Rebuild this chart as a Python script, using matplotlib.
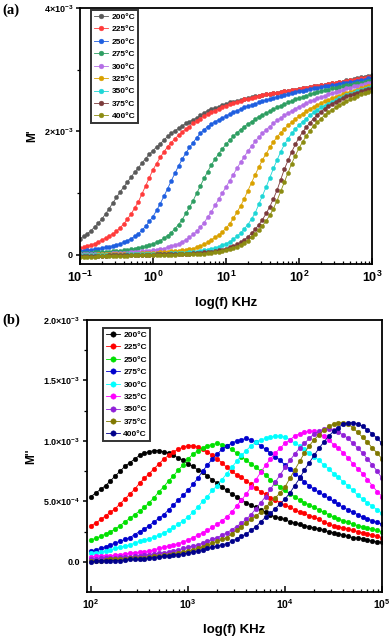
"""Electric modulus spectra: M' (a) and M'' (b) vs frequency."""

import matplotlib

matplotlib.use("Agg")
import matplotlib.pyplot as plt
from matplotlib.ticker import FixedLocator, FixedFormatter, LogLocator, NullFormatter

plt.rcParams["font.family"] = ["Liberation Sans", "DejaVu Sans"]
plt.rcParams["font.weight"] = "bold"
plt.rcParams["mathtext.fontset"] = "custom"
plt.rcParams["mathtext.rm"] = "Liberation Sans:bold"
plt.rcParams["mathtext.bf"] = "Liberation Sans:bold"
plt.rcParams["mathtext.it"] = "Liberation Sans:bold"

temps = ["200°C", "225°C", "250°C", "275°C", "300°C", "325°C", "350°C", "375°C", "400°C"]

# measured frequency grid (kHz), 20 points per decade
mantissas = [1.0, 1.122, 1.259, 1.413, 1.585, 1.778, 1.995, 2.239, 2.512, 2.818,
             3.162, 3.548, 3.981, 4.467, 5.012, 5.623, 6.310, 7.079, 7.943, 8.913]
freq_a = [m * 10.0 ** d for d in [-1, 0, 1, 2] for m in mantissas] + [1000.0]
freq_b = [m * 10.0 ** d for d in [2, 3, 4] for m in mantissas] + [1.0e5]

# M' in units of 1e-3 (one row per half decade)
m1_200 = [0.26, 0.30, 0.34, 0.39, 0.45, 0.51, 0.58, 0.66, 0.75, 0.84,
          0.93, 1.02, 1.10, 1.18, 1.26, 1.34, 1.41, 1.49, 1.56, 1.63,
          1.69, 1.75, 1.80, 1.86, 1.92, 1.97, 2.01, 2.05, 2.09, 2.13,
          2.16, 2.19, 2.22, 2.26, 2.30, 2.34, 2.37, 2.38, 2.40, 2.43,
          2.45, 2.47, 2.48, 2.50, 2.51, 2.53, 2.54, 2.56, 2.57, 2.58,
          2.59, 2.60, 2.61, 2.62, 2.63, 2.64, 2.65, 2.66, 2.67, 2.68,
          2.69, 2.70, 2.71, 2.72, 2.73, 2.74, 2.75, 2.76, 2.77, 2.78,
          2.79, 2.80, 2.81, 2.83, 2.84, 2.85, 2.86, 2.88, 2.89, 2.90,
          2.91]
m1_225 = [0.11, 0.12, 0.14, 0.16, 0.18, 0.21, 0.24, 0.27, 0.30, 0.34,
          0.38, 0.44, 0.50, 0.58, 0.66, 0.76, 0.86, 0.99, 1.12, 1.25,
          1.38, 1.48, 1.58, 1.67, 1.75, 1.82, 1.88, 1.94, 1.99, 2.04,
          2.08, 2.13, 2.17, 2.21, 2.25, 2.28, 2.31, 2.34, 2.37, 2.40,
          2.42, 2.44, 2.46, 2.48, 2.50, 2.52, 2.53, 2.55, 2.56, 2.58,
          2.59, 2.60, 2.61, 2.62, 2.63, 2.64, 2.65, 2.66, 2.67, 2.68,
          2.69, 2.70, 2.71, 2.72, 2.73, 2.74, 2.75, 2.76, 2.77, 2.78,
          2.79, 2.80, 2.81, 2.82, 2.83, 2.84, 2.85, 2.86, 2.87, 2.88,
          2.89]
m1_250 = [0.06, 0.065, 0.07, 0.08, 0.09, 0.10, 0.11, 0.12, 0.13, 0.145,
          0.16, 0.18, 0.20, 0.23, 0.26, 0.30, 0.34, 0.40, 0.46, 0.54,
          0.62, 0.72, 0.83, 0.95, 1.07, 1.20, 1.32, 1.44, 1.55, 1.65,
          1.74, 1.82, 1.90, 1.97, 2.03, 2.08, 2.12, 2.16, 2.19, 2.22,
          2.25, 2.28, 2.31, 2.34, 2.36, 2.39, 2.41, 2.43, 2.45, 2.47,
          2.49, 2.51, 2.53, 2.55, 2.56, 2.58, 2.59, 2.61, 2.62, 2.64,
          2.65, 2.66, 2.67, 2.69, 2.70, 2.71, 2.72, 2.73, 2.74, 2.75,
          2.76, 2.77, 2.78, 2.79, 2.80, 2.81, 2.82, 2.83, 2.84, 2.86,
          2.87]
m1_275 = [0.03, 0.03, 0.03, 0.035, 0.04, 0.04, 0.04, 0.045, 0.05, 0.055,
          0.06, 0.065, 0.07, 0.08, 0.09, 0.10, 0.11, 0.125, 0.14, 0.16,
          0.18, 0.20, 0.23, 0.27, 0.31, 0.36, 0.42, 0.49, 0.57, 0.67,
          0.77, 0.88, 1.00, 1.12, 1.24, 1.35, 1.46, 1.55, 1.64, 1.72,
          1.79, 1.86, 1.92, 1.98, 2.03, 2.08, 2.12, 2.16, 2.20, 2.24,
          2.27, 2.30, 2.33, 2.36, 2.39, 2.42, 2.44, 2.47, 2.49, 2.52,
          2.54, 2.56, 2.58, 2.60, 2.62, 2.64, 2.65, 2.67, 2.68, 2.70,
          2.71, 2.72, 2.73, 2.75, 2.76, 2.77, 2.78, 2.79, 2.80, 2.82,
          2.83]
m1_300 = [0.01, 0.01, 0.01, 0.015, 0.02, 0.02, 0.02, 0.02, 0.02, 0.025,
          0.03, 0.03, 0.03, 0.035, 0.04, 0.045, 0.05, 0.055, 0.06, 0.065,
          0.07, 0.08, 0.09, 0.10, 0.12, 0.14, 0.16, 0.18, 0.21, 0.24,
          0.28, 0.33, 0.38, 0.45, 0.52, 0.61, 0.70, 0.80, 0.90, 1.00,
          1.10, 1.20, 1.30, 1.40, 1.50, 1.59, 1.68, 1.76, 1.84, 1.91,
          1.97, 2.03, 2.08, 2.13, 2.18, 2.22, 2.26, 2.30, 2.33, 2.37,
          2.40, 2.43, 2.46, 2.49, 2.51, 2.54, 2.56, 2.58, 2.60, 2.62,
          2.64, 2.66, 2.68, 2.70, 2.71, 2.73, 2.74, 2.76, 2.77, 2.79,
          2.80]
m1_325 = [0.00, 0.00, 0.00, 0.00, 0.00, 0.005, 0.01, 0.01, 0.01, 0.01,
          0.01, 0.01, 0.01, 0.015, 0.02, 0.02, 0.02, 0.025, 0.03, 0.03,
          0.03, 0.035, 0.04, 0.045, 0.05, 0.055, 0.06, 0.065, 0.07, 0.08,
          0.09, 0.10, 0.12, 0.14, 0.17, 0.20, 0.24, 0.28, 0.32, 0.37,
          0.43, 0.50, 0.59, 0.69, 0.79, 0.91, 1.04, 1.17, 1.30, 1.42,
          1.54, 1.64, 1.74, 1.83, 1.91, 1.98, 2.04, 2.10, 2.15, 2.20,
          2.25, 2.29, 2.33, 2.37, 2.40, 2.43, 2.46, 2.49, 2.51, 2.54,
          2.56, 2.58, 2.60, 2.62, 2.64, 2.66, 2.68, 2.70, 2.72, 2.74,
          2.76]
m1_350 = [-0.01, -0.01, -0.01, -0.01, -0.01, -0.005, 0.00, 0.00, 0.00, 0.00,
          0.00, 0.00, 0.00, 0.005, 0.01, 0.01, 0.01, 0.01, 0.01, 0.01,
          0.01, 0.015, 0.02, 0.02, 0.02, 0.025, 0.03, 0.03, 0.03, 0.035,
          0.04, 0.045, 0.05, 0.06, 0.07, 0.08, 0.09, 0.11, 0.13, 0.155,
          0.18, 0.21, 0.25, 0.30, 0.35, 0.42, 0.49, 0.58, 0.68, 0.82,
          0.96, 1.10, 1.25, 1.40, 1.54, 1.67, 1.79, 1.88, 1.97, 2.04,
          2.10, 2.16, 2.21, 2.26, 2.31, 2.35, 2.39, 2.42, 2.45, 2.48,
          2.51, 2.54, 2.56, 2.59, 2.61, 2.63, 2.65, 2.67, 2.69, 2.71,
          2.73]
m1_375 = [-0.02, -0.02, -0.02, -0.02, -0.02, -0.02, -0.02, -0.015, -0.01, -0.01,
          -0.01, -0.01, -0.01, -0.01, -0.01, -0.005, 0.00, 0.00, 0.00, 0.00,
          0.00, 0.005, 0.01, 0.01, 0.01, 0.01, 0.01, 0.015, 0.02, 0.02,
          0.02, 0.025, 0.03, 0.035, 0.04, 0.045, 0.05, 0.06, 0.07, 0.085,
          0.10, 0.12, 0.14, 0.17, 0.20, 0.24, 0.29, 0.35, 0.41, 0.49,
          0.57, 0.67, 0.78, 0.91, 1.05, 1.22, 1.39, 1.53, 1.67, 1.79,
          1.90, 1.99, 2.07, 2.14, 2.21, 2.27, 2.32, 2.37, 2.41, 2.45,
          2.48, 2.51, 2.54, 2.57, 2.59, 2.61, 2.63, 2.65, 2.67, 2.69,
          2.70]
m1_400 = [-0.03, -0.03, -0.03, -0.03, -0.03, -0.025, -0.02, -0.02, -0.02, -0.02,
          -0.02, -0.02, -0.02, -0.015, -0.01, -0.01, -0.01, -0.01, -0.01, -0.01,
          -0.01, -0.005, 0.00, 0.00, 0.00, 0.00, 0.00, 0.005, 0.01, 0.01,
          0.01, 0.015, 0.02, 0.02, 0.02, 0.025, 0.03, 0.04, 0.05, 0.06,
          0.07, 0.09, 0.11, 0.13, 0.16, 0.19, 0.23, 0.28, 0.33, 0.40,
          0.47, 0.55, 0.64, 0.75, 0.88, 1.03, 1.18, 1.33, 1.48, 1.61,
          1.73, 1.83, 1.93, 2.01, 2.09, 2.15, 2.21, 2.26, 2.31, 2.35,
          2.39, 2.43, 2.46, 2.49, 2.52, 2.55, 2.57, 2.60, 2.62, 2.64,
          2.66]

# M'' in units of 1e-3 (one row per half decade)
m2_200 = [0.54, 0.57, 0.60, 0.63, 0.67, 0.71, 0.75, 0.79, 0.82, 0.85,
          0.88, 0.90, 0.91, 0.92, 0.92, 0.91, 0.90, 0.88, 0.86, 0.84,
          0.81, 0.79, 0.76, 0.74, 0.71, 0.68, 0.65, 0.62, 0.59, 0.56,
          0.54, 0.51, 0.49, 0.47, 0.45, 0.43, 0.41, 0.39, 0.37, 0.36,
          0.35, 0.33, 0.32, 0.31, 0.30, 0.29, 0.28, 0.27, 0.26, 0.25,
          0.24, 0.23, 0.22, 0.21, 0.20, 0.195, 0.19, 0.18, 0.17, 0.165,
          0.16]
m2_225 = [0.30, 0.32, 0.35, 0.38, 0.41, 0.44, 0.48, 0.52, 0.56, 0.60,
          0.65, 0.69, 0.73, 0.77, 0.81, 0.85, 0.88, 0.91, 0.93, 0.95,
          0.96, 0.96, 0.95, 0.93, 0.91, 0.88, 0.85, 0.82, 0.78, 0.75,
          0.72, 0.70, 0.67, 0.64, 0.61, 0.58, 0.56, 0.53, 0.51, 0.49,
          0.47, 0.45, 0.43, 0.41, 0.40, 0.38, 0.37, 0.35, 0.33, 0.31,
          0.30, 0.29, 0.28, 0.27, 0.26, 0.25, 0.24, 0.23, 0.22, 0.21,
          0.20]
m2_250 = [0.18, 0.195, 0.21, 0.23, 0.25, 0.27, 0.30, 0.33, 0.36, 0.39,
          0.42, 0.45, 0.49, 0.53, 0.58, 0.62, 0.67, 0.71, 0.76, 0.80,
          0.85, 0.89, 0.92, 0.94, 0.96, 0.97, 0.98, 0.97, 0.96, 0.93,
          0.90, 0.87, 0.84, 0.81, 0.78, 0.75, 0.72, 0.68, 0.65, 0.62,
          0.59, 0.56, 0.54, 0.51, 0.49, 0.47, 0.45, 0.43, 0.41, 0.39,
          0.37, 0.355, 0.34, 0.325, 0.31, 0.30, 0.29, 0.28, 0.27, 0.26,
          0.25]
m2_275 = [0.09, 0.10, 0.11, 0.125, 0.14, 0.155, 0.17, 0.185, 0.20, 0.225,
          0.25, 0.27, 0.30, 0.33, 0.36, 0.39, 0.43, 0.47, 0.51, 0.55,
          0.59, 0.64, 0.69, 0.75, 0.80, 0.85, 0.89, 0.93, 0.96, 0.98,
          1.00, 1.01, 1.02, 1.01, 0.99, 0.96, 0.93, 0.90, 0.87, 0.84,
          0.80, 0.77, 0.73, 0.70, 0.66, 0.63, 0.60, 0.575, 0.55, 0.525,
          0.50, 0.475, 0.45, 0.43, 0.41, 0.39, 0.37, 0.355, 0.34, 0.325,
          0.31]
m2_300 = [0.07, 0.075, 0.08, 0.09, 0.10, 0.11, 0.12, 0.13, 0.14, 0.155,
          0.17, 0.18, 0.19, 0.205, 0.22, 0.24, 0.26, 0.285, 0.31, 0.34,
          0.37, 0.41, 0.45, 0.50, 0.54, 0.59, 0.63, 0.68, 0.73, 0.78,
          0.83, 0.88, 0.92, 0.96, 0.99, 1.01, 1.02, 1.03, 1.04, 1.04,
          1.03, 1.01, 0.98, 0.96, 0.93, 0.90, 0.87, 0.84, 0.80, 0.77,
          0.73, 0.70, 0.66, 0.63, 0.59, 0.55, 0.52, 0.49, 0.46, 0.43,
          0.40]
m2_325 = [0.04, 0.045, 0.05, 0.05, 0.05, 0.055, 0.06, 0.065, 0.07, 0.075,
          0.08, 0.085, 0.09, 0.10, 0.11, 0.12, 0.13, 0.14, 0.15, 0.165,
          0.18, 0.20, 0.22, 0.24, 0.26, 0.285, 0.31, 0.34, 0.37, 0.41,
          0.46, 0.51, 0.56, 0.62, 0.68, 0.74, 0.80, 0.85, 0.90, 0.94,
          0.98, 1.01, 1.04, 1.06, 1.07, 1.08, 1.08, 1.06, 1.04, 1.01,
          0.97, 0.94, 0.90, 0.86, 0.81, 0.77, 0.73, 0.68, 0.63, 0.58,
          0.54]
m2_350 = [0.02, 0.025, 0.03, 0.03, 0.03, 0.035, 0.04, 0.04, 0.04, 0.045,
          0.05, 0.055, 0.06, 0.065, 0.07, 0.075, 0.08, 0.09, 0.10, 0.11,
          0.12, 0.13, 0.14, 0.155, 0.17, 0.185, 0.20, 0.22, 0.24, 0.265,
          0.29, 0.32, 0.35, 0.39, 0.44, 0.49, 0.54, 0.60, 0.66, 0.72,
          0.78, 0.84, 0.89, 0.94, 0.98, 1.02, 1.06, 1.08, 1.10, 1.10,
          1.09, 1.07, 1.05, 1.02, 0.98, 0.94, 0.90, 0.85, 0.80, 0.75,
          0.69]
m2_375 = [0.01, 0.01, 0.01, 0.015, 0.02, 0.02, 0.02, 0.025, 0.03, 0.03,
          0.03, 0.035, 0.04, 0.045, 0.05, 0.055, 0.06, 0.065, 0.07, 0.08,
          0.09, 0.10, 0.11, 0.125, 0.14, 0.155, 0.17, 0.185, 0.20, 0.23,
          0.26, 0.29, 0.32, 0.35, 0.38, 0.41, 0.45, 0.49, 0.53, 0.57,
          0.62, 0.69, 0.76, 0.83, 0.90, 0.96, 1.01, 1.05, 1.09, 1.12,
          1.14, 1.15, 1.15, 1.14, 1.11, 1.07, 1.03, 0.99, 0.94, 0.90,
          0.85]
m2_400 = [0.00, 0.005, 0.01, 0.01, 0.01, 0.01, 0.01, 0.015, 0.02, 0.02,
          0.02, 0.025, 0.03, 0.035, 0.04, 0.045, 0.05, 0.055, 0.06, 0.065,
          0.07, 0.08, 0.09, 0.10, 0.11, 0.12, 0.13, 0.14, 0.15, 0.17,
          0.19, 0.21, 0.23, 0.26, 0.29, 0.33, 0.37, 0.40, 0.44, 0.48,
          0.52, 0.57, 0.63, 0.69, 0.76, 0.82, 0.88, 0.94, 0.99, 1.04,
          1.08, 1.11, 1.14, 1.15, 1.15, 1.14, 1.12, 1.09, 1.06, 1.02,
          0.98]

series_a = [m1_200, m1_225, m1_250, m1_275, m1_300, m1_325, m1_350, m1_375, m1_400]
series_b = [m2_200, m2_225, m2_250, m2_275, m2_300, m2_325, m2_350, m2_375, m2_400]

colors_a = ["#5a5a5a", "#ff3b3b", "#1f5fe0", "#2e9e62", "#b46ee6", "#d9a100", "#1ed6d6", "#7b3b3b", "#8c8c12"]
colors_b = ["#000000", "#ff0000", "#00e000", "#0000cd", "#00ffff", "#ff00ff", "#9020d8", "#807800", "#00008b"]


def _style_axes(ax, xlabel_text, ylabel_text, xtick_size):
    for spine in ax.spines.values():
        spine.set_linewidth(1.3)
    ax.tick_params(axis="x", which="both", direction="in", labelsize=xtick_size, pad=4)
    ax.tick_params(axis="x", which="major", length=4, width=1.1)
    ax.tick_params(axis="x", which="minor", length=2.2, width=0.9)
    ax.tick_params(axis="y", which="both", direction="out", labelsize=6.5, pad=2)
    ax.tick_params(axis="y", which="major", length=3, width=1.1)
    ax.tick_params(axis="y", which="minor", length=2, width=0.9)
    ax.xaxis.set_minor_locator(LogLocator(base=10, subs=range(2, 10)))
    ax.xaxis.set_minor_formatter(NullFormatter())
    ax.set_xlabel(xlabel_text, fontsize=9.5, fontweight="bold", labelpad=9)
    ax.set_ylabel(ylabel_text, fontsize=8.5, fontweight="bold", labelpad=4)


def _legend(ax, anchor, fontsize):
    leg = ax.legend(loc="upper left", bbox_to_anchor=anchor, frameon=True, fancybox=False,
                    fontsize=fontsize, handlelength=1.7, handletextpad=0.4, borderpad=0.35,
                    labelspacing=0.55, borderaxespad=0.0, markerscale=1.15)
    leg.get_frame().set_edgecolor("black")
    leg.get_frame().set_linewidth(1.4)
    for text in leg.get_texts():
        text.set_fontweight("bold")


fig = plt.figure(figsize=(3.92, 6.38), dpi=100)

# (a) real part
ax_a = fig.add_axes([0.204, 0.5862, 0.745, 0.401])
for values, label, color in zip(series_a, temps, colors_a):
    ax_a.plot(freq_a, [v * 1e-3 for v in values], color=color, marker="o", markersize=3.0,
              markeredgecolor=color, markeredgewidth=0.3, linewidth=0.6, label=label)
ax_a.set_xscale("log")
ax_a.set_xlim(0.1, 1000)
ax_a.set_ylim(-0.15e-3, 4.0e-3)
ax_a.yaxis.set_major_locator(FixedLocator([0.0, 2e-3, 4e-3]))
ax_a.yaxis.set_major_formatter(FixedFormatter(["0", r"$2{\times}10^{-3}$", r"$4{\times}10^{-3}$"]))
ax_a.yaxis.set_minor_locator(FixedLocator([1e-3, 3e-3]))
_style_axes(ax_a, "log(f) KHz", "M'", 9)
_legend(ax_a, (0.038, 0.992), 6)
fig.text(0.005, 0.984, "(a)", family="Liberation Serif", fontsize=10.5, fontweight="bold", va="center")

# (b) imaginary part
ax_b = fig.add_axes([0.222, 0.0721, 0.7526, 0.4263])
for values, label, color in zip(series_b, temps, colors_b):
    ax_b.plot(freq_b, [v * 1e-3 for v in values], color=color, marker="o", markersize=3.4,
              markeredgecolor=color, markeredgewidth=0.3, linewidth=0.6, label=label)
ax_b.set_xscale("log")
ax_b.set_xlim(91, 1.0e5)
ax_b.set_ylim(-0.25e-3, 2.0e-3)
ax_b.yaxis.set_major_locator(FixedLocator([0.0, 0.5e-3, 1.0e-3, 1.5e-3, 2.0e-3]))
ax_b.yaxis.set_major_formatter(FixedFormatter(["0.0", r"$5.0{\times}10^{-4}$", r"$1.0{\times}10^{-3}$",
                                               r"$1.5{\times}10^{-3}$", r"$2.0{\times}10^{-3}$"]))
ax_b.yaxis.set_minor_locator(FixedLocator([0.25e-3, 0.75e-3, 1.25e-3, 1.75e-3]))
_style_axes(ax_b, "log(f) KHz", "M''", 7.5)
_legend(ax_b, (0.054, 0.97), 6)
fig.text(0.005, 0.498, "(b)", family="Liberation Serif", fontsize=10.5, fontweight="bold", va="center")

fig.savefig("out.png", dpi=100)
plt.close(fig)
